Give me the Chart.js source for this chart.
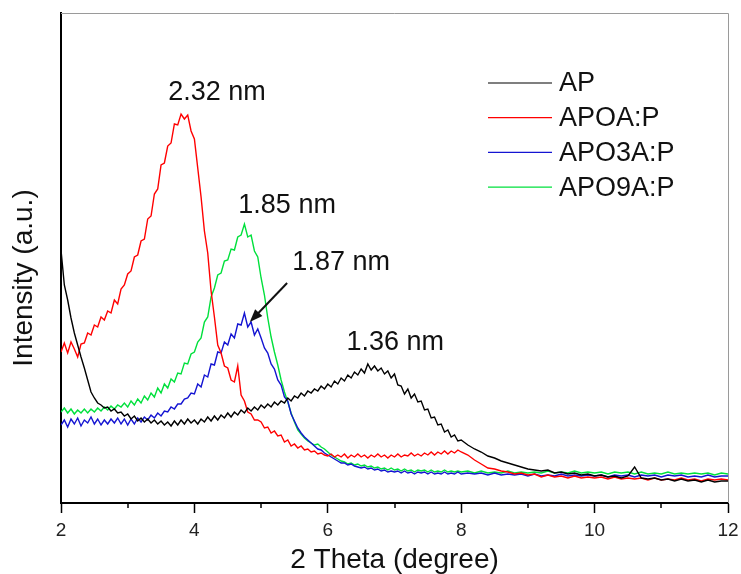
<!DOCTYPE html>
<html>
<head>
<meta charset="utf-8">
<script src="https://cdn.jsdelivr.net/npm/chart.js@4.4.0/dist/chart.umd.min.js"></script>
<style>
  body { margin: 0; background: #fff; }
  #xrd { display: block; }
</style>
</head>
<body>
<canvas id="xrd" width="741" height="574"></canvas>
<script>
// 2 theta (degree)
const theta = [
  2,2.05,2.1,2.15,2.2,2.25,2.3,2.35,2.4,2.45,2.5,2.55,2.6,2.65,2.7,2.75,2.8,2.85,2.9,2.95,
  3,3.05,3.1,3.15,3.2,3.25,3.3,3.35,3.4,3.45,3.5,3.55,3.6,3.65,3.7,3.75,3.8,3.85,3.9,3.95,
  4,4.05,4.1,4.15,4.2,4.25,4.3,4.35,4.4,4.45,4.5,4.55,4.6,4.65,4.7,4.75,4.8,4.85,4.9,4.95,
  5,5.05,5.1,5.15,5.2,5.25,5.3,5.35,5.4,5.45,5.5,5.55,5.6,5.65,5.7,5.75,5.8,5.85,5.9,5.95,
  6,6.05,6.1,6.15,6.2,6.25,6.3,6.35,6.4,6.45,6.5,6.55,6.6,6.65,6.7,6.75,6.8,6.85,6.9,6.95,
  7,7.05,7.1,7.15,7.2,7.25,7.3,7.35,7.4,7.45,7.5,7.55,7.6,7.65,7.7,7.75,7.8,7.85,7.9,7.95,
  8,8.1,8.2,8.3,8.4,8.5,8.6,8.7,8.8,8.9,9,9.1,9.2,9.3,9.4,9.5,9.6,9.7,9.8,9.9,
  10,10.1,10.2,10.3,10.4,10.5,10.6,10.7,10.8,10.9,11,11.1,11.2,11.3,11.4,11.5,11.6,11.7,11.8,11.9,12
];

// intensities (a.u.)
const ap = [
  253,218,203,185,170,158,146,135,123,111,105,100,98,95,96,92,94,90,91,87,
  89,84,87,82,85,81,84,80,83,79,82,78,81,77,82,78,83,79,84,80,
  83,79,84,81,86,82,87,83,88,85,90,86,91,88,93,90,95,92,96,93,
  98,95,99,96,101,98,102,100,105,102,107,105,110,107,112,110,114,112,117,114,
  119,116,122,119,125,122,128,125,131,128,134,130,139,133,137,132,135,129,132,125,
  129,118,117,109,114,105,109,101,102,93,94,85,86,78,79,71,73,66,68,62,
  63,58,54,51,47,45,42,40,38,36,34,33,32,33,30,31,29,30,28,29,
  27,28,26,27,25,27,36,25,24,25,23,24,22,24,22,23,21,23,21,22,22
];
const apoa = [
  151,160,150,161,154,146,159,160,170,168,178,176,186,183,192,190,203,199,214,218,
  229,232,246,248,262,264,284,287,309,314,338,340,357,360,379,378,389,384,388,372,
  364,335,306,272,250,212,186,158,150,137,135,123,121,137,108,102,91,89,83,83,
  81,75,76,70,72,67,68,61,63,57,59,55,57,53,54,51,52,49,50,48,
  47,49,46,48,46,49,45,48,46,49,46,48,45,48,46,49,46,48,45,48,
  46,49,46,48,47,50,47,49,47,50,48,51,48,51,49,52,49,52,50,53,
  51,48,43,39,35,34,32,31,29,30,28,29,26,28,26,27,25,27,25,26,
  25,26,24,26,24,25,24,25,23,25,23,24,23,25,23,24,22,24,23,24,23
];
const apo3a = [
  78,83,76,84,79,85,77,83,80,86,79,84,78,83,79,84,80,85,79,84,
  78,84,79,85,81,86,83,88,85,90,87,92,91,96,94,99,99,104,105,110,
  109,119,116,128,126,139,138,151,150,161,158,169,165,179,178,190,176,181,168,174,
  165,155,150,139,134,123,118,106,102,89,82,75,70,66,63,60,57,54,53,50,
  48,46,44,42,40,40,38,39,37,36,35,36,34,35,33,34,32,33,31,32,
  31,32,30,32,30,31,29,31,30,31,29,31,29,30,29,31,29,30,29,31,
  29,30,29,30,28,30,28,29,28,29,27,29,27,28,27,29,27,28,27,28,
  27,28,26,28,27,28,26,28,27,28,26,28,27,28,26,27,26,28,26,27,27
];
const apo9a = [
  91,95,90,94,89,93,90,94,90,94,91,95,92,96,93,97,94,98,96,100,
  96,102,98,104,100,107,103,110,106,115,110,119,115,124,121,130,129,140,139,149,
  151,161,165,181,186,206,215,228,230,242,243,254,253,266,268,279,266,268,252,246,
  225,208,185,166,151,138,123,111,101,90,81,73,69,65,62,60,58,59,56,54,
  51,48,46,44,42,41,39,40,38,39,37,38,36,37,35,36,34,35,33,35,
  33,34,32,34,32,33,31,33,32,33,31,33,31,32,31,33,31,32,31,32,
  31,32,30,32,30,31,30,32,30,31,30,31,30,32,30,31,30,32,30,31,
  30,31,29,31,30,31,29,31,29,30,29,31,29,30,29,30,29,30,28,30,29
];

const seriesNames = ['AP', 'APOA:P', 'APO3A:P', 'APO9A:P'];
const seriesColors = ['#000000', '#ff0000', '#1414d2', '#00e03c'];
const xTicks = [2, 4, 6, 8, 10, 12];
const xMinor = [3, 5, 7, 9, 11];

const FONT = '"Liberation Sans", Arial, sans-serif';

function pts(vals) {
  return theta.map(function(t, i) { return {x: t, y: vals[i]}; });
}

// peak spacings written on the plot, anchored in data units
const notes = [
  {text: '2.32 nm', x: 4.34, y: 410},
  {text: '1.85 nm', x: 5.39, y: 297},
  {text: '1.87 nm', x: 6.20, y: 240},
  {text: '1.36 nm', x: 7.01, y: 160}
];
const arrow = {from: [5.39, 220], to: [4.83, 181]};

const decor = {
  id: 'decor',
  afterDraw(chart) {
    const ctx = chart.ctx, a = chart.chartArea;
    const xs = chart.scales.x, ys = chart.scales.y;
    ctx.save();

    // thin grey frame on top and right
    ctx.strokeStyle = '#9a9a9a';
    ctx.lineWidth = 1;
    ctx.beginPath();
    ctx.moveTo(a.left, a.top + 0.5);
    ctx.lineTo(a.right + 0.5, a.top + 0.5);
    ctx.lineTo(a.right + 0.5, a.bottom);
    ctx.stroke();

    // minor ticks
    ctx.strokeStyle = '#000';
    ctx.lineWidth = 1.5;
    xMinor.forEach(function(v) {
      const px = Math.round(xs.getPixelForValue(v));
      ctx.beginPath();
      ctx.moveTo(px, a.bottom);
      ctx.lineTo(px, a.bottom + 5);
      ctx.stroke();
    });

    // annotations
    ctx.fillStyle = '#111';
    ctx.font = '27px ' + FONT;
    ctx.textAlign = 'center';
    ctx.textBaseline = 'middle';
    notes.forEach(function(n) {
      ctx.fillText(n.text, xs.getPixelForValue(n.x), ys.getPixelForValue(n.y));
    });

    // arrow to the APO3A:P peak
    const x0 = xs.getPixelForValue(arrow.from[0]), y0 = ys.getPixelForValue(arrow.from[1]);
    const x1 = xs.getPixelForValue(arrow.to[0]), y1 = ys.getPixelForValue(arrow.to[1]);
    const ang = Math.atan2(y1 - y0, x1 - x0);
    ctx.strokeStyle = '#111';
    ctx.lineWidth = 2;
    ctx.beginPath();
    ctx.moveTo(x0, y0);
    ctx.lineTo(x1 - 8 * Math.cos(ang), y1 - 8 * Math.sin(ang));
    ctx.stroke();
    ctx.beginPath();
    ctx.moveTo(x1, y1);
    ctx.lineTo(x1 - 13 * Math.cos(ang) + 5 * Math.sin(ang), y1 - 13 * Math.sin(ang) - 5 * Math.cos(ang));
    ctx.lineTo(x1 - 13 * Math.cos(ang) - 5 * Math.sin(ang), y1 - 13 * Math.sin(ang) + 5 * Math.cos(ang));
    ctx.closePath();
    ctx.fill();

    // legend
    ctx.textAlign = 'left';
    seriesNames.forEach(function(name, i) {
      const ly = a.top + 70 + i * 34.7;
      ctx.strokeStyle = seriesColors[i];
      ctx.lineWidth = 1.2;
      ctx.beginPath();
      ctx.moveTo(a.right - 240, ly);
      ctx.lineTo(a.right - 176, ly);
      ctx.stroke();
      ctx.fillStyle = '#111';
      ctx.fillText(name, a.right - 169, ly + 1);
    });

    // y axis title
    ctx.font = '28px ' + FONT;
    ctx.textAlign = 'center';
    ctx.translate(24, (a.top + a.bottom) / 2 + 20);
    ctx.rotate(-Math.PI / 2);
    ctx.fillText('Intensity (a.u.)', 0, 0);

    ctx.restore();
  }
};

new Chart(document.getElementById('xrd'), {
  type: 'line',
  data: {
    datasets: seriesNames.map(function(name, i) {
      return {
        label: name,
        data: pts([ap, apoa, apo3a, apo9a][i]),
        borderColor: seriesColors[i],
        borderWidth: 1.4,
        pointRadius: 0,
        tension: 0,
        fill: false
      };
    })
  },
  options: {
    responsive: false,
    animation: false,
    events: [],
    layout: { padding: { left: 0, right: 13, top: 13, bottom: 0 } },
    plugins: { legend: { display: false }, tooltip: { enabled: false } },
    scales: {
      x: {
        type: 'linear',
        min: 2,
        max: 12,
        afterFit: function(s) { s.height = 71; s.paddingLeft = 0; s.paddingRight = 0; },
        afterBuildTicks: function(s) { s.ticks = xTicks.map(function(v) { return {value: v}; }); },
        ticks: { color: '#222', font: { family: FONT, size: 19 }, padding: 6, maxRotation: 0 },
        grid: { drawOnChartArea: false, drawTicks: true, tickLength: 10, tickColor: '#000', tickWidth: 1.5 },
        border: { color: '#000', width: 2 },
        title: {
          display: true,
          text: '2 Theta (degree)',
          color: '#111',
          font: { family: FONT, size: 28, lineHeight: 1 },
          padding: { top: 0, bottom: 0 }
        }
      },
      y: {
        min: 0,
        max: 490,
        afterFit: function(s) { s.width = 61; },
        ticks: { display: false },
        grid: { drawOnChartArea: false, drawTicks: false },
        border: { color: '#000', width: 2 }
      }
    }
  },
  plugins: [decor]
});
</script>
</body>
</html>
